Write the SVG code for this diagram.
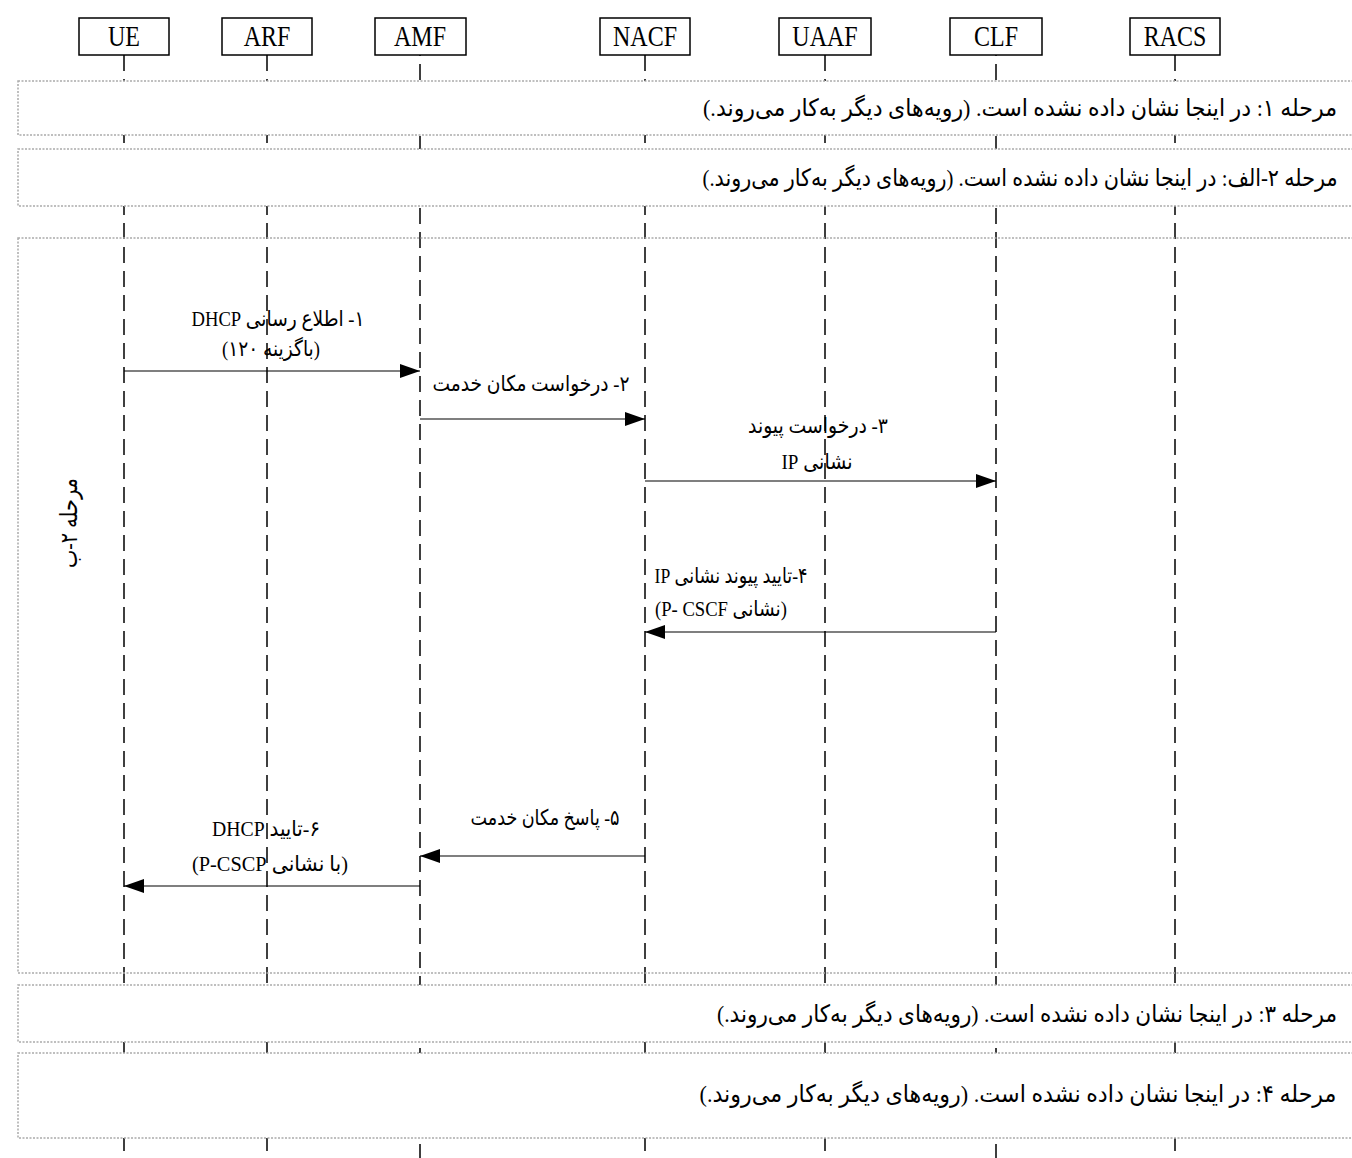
<svg xmlns="http://www.w3.org/2000/svg" width="1352" height="1158" viewBox="0 0 1352 1158">
  <style>
    .box { fill: #fff; stroke: #000; stroke-width: 1.5; }
    .hdr { font-family: "Liberation Serif", "DejaVu Sans", serif; font-size: 24px; text-anchor: middle; fill: #000; }
    .life { stroke: #000; stroke-width: 1.5; stroke-dasharray: 16 8; fill: none; }
    .phase { fill: #fff; stroke: #aaa; stroke-width: 1.5; stroke-dasharray: 2 1.5; }
    .phase-open { fill: none; stroke: #aaa; stroke-width: 1.5; stroke-dasharray: 2 1.5; }
    .ptxt { font-family: "Liberation Serif", "DejaVu Sans", serif; font-size: 20px; text-anchor: middle; direction: rtl; fill: #000; }
    .lbl { font-family: "Liberation Serif", "DejaVu Sans", serif; font-size: 18px; text-anchor: middle; direction: rtl; fill: #000; }
    .msg { stroke: #000; stroke-width: 1.2; fill: none; marker-end: url(#head); }
  </style>
  <defs>
    <marker id="head" markerUnits="userSpaceOnUse" markerWidth="20" markerHeight="14" refX="20" refY="7" orient="auto">
      <path d="M0,0 L20,7 L0,14 Z" fill="#000"/>
    </marker>
  </defs>

  <rect width="1352" height="1158" fill="#fff"/>

  <!-- lifelines and participant headers -->
  <g id="UE">
    <line class="life" x1="124" y1="55" x2="124" y2="1158"/>
    <rect class="box" x="79" y="18" width="90" height="37"/>
    <text class="hdr" transform="translate(124 46) scale(1 1.25)">UE</text>
  </g>
  <g id="ARF">
    <line class="life" x1="267" y1="55" x2="267" y2="1158"/>
    <rect class="box" x="222" y="18" width="90" height="37"/>
    <text class="hdr" transform="translate(267 46) scale(1 1.25)">ARF</text>
  </g>
  <g id="AMF">
    <line class="life" x1="420" y1="55" x2="420" y2="1158" stroke-dashoffset="-9"/>
    <rect class="box" x="375" y="18" width="91" height="37"/>
    <text class="hdr" transform="translate(420 46) scale(1 1.25)">AMF</text>
  </g>
  <g id="NACF">
    <line class="life" x1="645" y1="55" x2="645" y2="1158"/>
    <rect class="box" x="600" y="18" width="90" height="37"/>
    <text class="hdr" transform="translate(645 46) scale(1 1.25)">NACF</text>
  </g>
  <g id="UAAF">
    <line class="life" x1="825" y1="55" x2="825" y2="1158"/>
    <rect class="box" x="779" y="18" width="92" height="37"/>
    <text class="hdr" transform="translate(825 46) scale(1 1.25)">UAAF</text>
  </g>
  <g id="CLF">
    <line class="life" x1="996" y1="55" x2="996" y2="1158" stroke-dashoffset="-9"/>
    <rect class="box" x="950" y="18" width="92" height="37"/>
    <text class="hdr" transform="translate(996 46) scale(1 1.25)">CLF</text>
  </g>
  <g id="RACS">
    <line class="life" x1="1175" y1="55" x2="1175" y2="1158"/>
    <rect class="box" x="1130" y="18" width="90" height="37"/>
    <text class="hdr" transform="translate(1175 46) scale(1 1.25)">RACS</text>
  </g>

  <!-- phases not detailed here -->
  <g id="phase1">
    <rect class="phase" x="18" y="81" width="1345" height="54"/>
    <text class="ptxt" transform="translate(1020 116) scale(1 1.2)" textLength="634" lengthAdjust="spacingAndGlyphs">مرحله ۱: در اینجا نشان داده نشده است. (رویه‌های دیگر به‌کار می‌روند.)</text>
  </g>
  <g id="phase2a">
    <rect class="phase" x="18" y="149" width="1345" height="57"/>
    <text class="ptxt" transform="translate(1020 186) scale(1 1.2)" textLength="635" lengthAdjust="spacingAndGlyphs">مرحله ۲-الف: در اینجا نشان داده نشده است. (رویه‌های دیگر به‌کار می‌روند.)</text>
  </g>
  <g id="phase2b">
    <rect class="phase-open" x="18" y="238" width="1345" height="735"/>
    <text class="ptxt" transform="translate(77 523) rotate(-90) scale(1 1.2)" textLength="90" lengthAdjust="spacingAndGlyphs">مرحله ۲-ب</text>
  </g>
  <g id="phase3">
    <rect class="phase" x="18" y="985" width="1345" height="57"/>
    <text class="ptxt" transform="translate(1027 1022) scale(1 1.2)" textLength="620" lengthAdjust="spacingAndGlyphs">مرحله ۳: در اینجا نشان داده نشده است. (رویه‌های دیگر به‌کار می‌روند.)</text>
  </g>
  <g id="phase4">
    <rect class="phase" x="18" y="1053" width="1345" height="85"/>
    <text class="ptxt" transform="translate(1018 1102) scale(1 1.2)" textLength="637" lengthAdjust="spacingAndGlyphs">مرحله ۴: در اینجا نشان داده نشده است. (رویه‌های دیگر به‌کار می‌روند.)</text>
  </g>

  <!-- messages -->
  <g id="connectors">
    <line class="msg" x1="124" y1="371" x2="420" y2="371"/>
    <line class="msg" x1="420" y1="419" x2="645" y2="419"/>
    <line class="msg" x1="645" y1="481" x2="996" y2="481"/>
    <line class="msg" x1="996" y1="632" x2="645" y2="632"/>
    <line class="msg" x1="645" y1="856" x2="420" y2="856"/>
    <line class="msg" x1="420" y1="886" x2="124" y2="886"/>
  </g>

  <g id="labels">
    <text class="lbl" transform="translate(278 326) scale(1 1.2)" textLength="173" lengthAdjust="spacingAndGlyphs">۱- اطلاع رسانی DHCP</text>
    <text class="lbl" transform="translate(271 356) scale(1 1.2)" textLength="98" lengthAdjust="spacingAndGlyphs">(باگزینه ۱۲۰)</text>
    <text class="lbl" transform="translate(531 391) scale(1 1.2)" textLength="197" lengthAdjust="spacingAndGlyphs">۲- درخواست مکان خدمت</text>
    <text class="lbl" transform="translate(818 433) scale(1 1.2)" textLength="140" lengthAdjust="spacingAndGlyphs">۳- درخواست پیوند</text>
    <text class="lbl" transform="translate(817 469) scale(1 1.2)" textLength="71" lengthAdjust="spacingAndGlyphs">نشانی IP</text>
    <text class="lbl" transform="translate(731 583) scale(1 1.2)" textLength="153" lengthAdjust="spacingAndGlyphs">۴-تایید پیوند نشانی IP</text>
    <text class="lbl" transform="translate(721 616) scale(1 1.2)" textLength="132" lengthAdjust="spacingAndGlyphs">(نشانی P- CSCF)</text>
    <text class="lbl" transform="translate(545 825) scale(1 1.2)" textLength="149" lengthAdjust="spacingAndGlyphs">۵- پاسخ مکان خدمت</text>
    <text class="lbl" transform="translate(266 836) scale(1 1.2)" textLength="108" lengthAdjust="spacingAndGlyphs">۶-تایید  DHCP</text>
    <text class="lbl" transform="translate(270 871) scale(1 1.2)" textLength="156" lengthAdjust="spacingAndGlyphs">(با نشانی P-CSCP)</text>
  </g>
</svg>
